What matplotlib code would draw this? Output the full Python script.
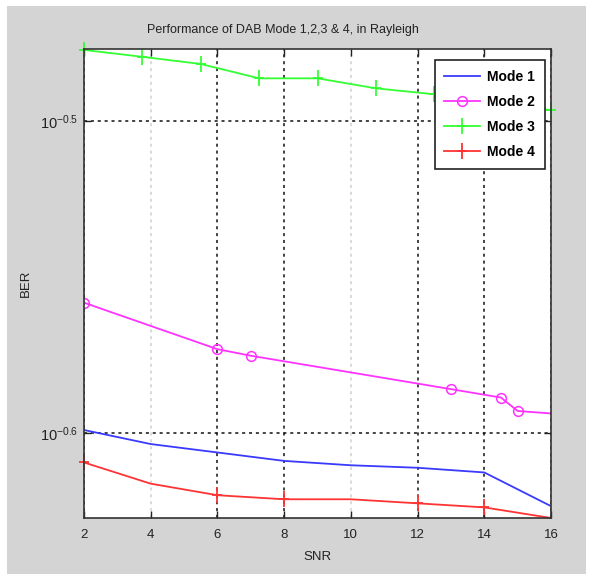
import matplotlib
matplotlib.use("Agg")
import matplotlib.pyplot as plt
from matplotlib.patches import Rectangle
import numpy as np

# values (log10 of BER)
snr_m1 = [2, 4, 6, 8, 10, 12, 14, 16]
logber_m1 = [-0.5990, -0.6035, -0.6062, -0.6089, -0.6103, -0.6111, -0.6126, -0.6234]

snr_m2 = [2, 6, 7, 13, 14.5, 15, 16]
logber_m2 = [-0.5582, -0.5731, -0.5752, -0.5859, -0.5886, -0.5929, -0.5937]

snr_m3 = [2, 3.75, 5.5, 7.25, 9, 10.75, 12.5, 14.25, 16]
logber_m3 = [-0.4772, -0.4794, -0.4817, -0.4863, -0.4863, -0.4895, -0.4914, -0.4940, -0.4965]

snr_m4 = [2, 4, 6, 8, 10, 12, 14, 16]
logber_m4 = [-0.6094, -0.6162, -0.6199, -0.6212, -0.6212, -0.6225, -0.6238, -0.6272]

labels = ["Mode 1", "Mode 2", "Mode 3", "Mode 4"]
xticks = [2, 4, 6, 8, 10, 12, 14, 16]
yticks_log = [-0.6, -0.5]

plt.rcParams['font.family'] = ['Liberation Sans', 'DejaVu Sans']
plt.rcParams['mathtext.fontset'] = 'custom'
plt.rcParams['mathtext.rm'] = 'Liberation Sans'
plt.rcParams['mathtext.it'] = 'Liberation Sans'

W, H = 593, 574
fig = plt.figure(figsize=(W / 100, H / 100), dpi=100, facecolor='white')
# matlab-ish grey figure panel
fig.patches.append(Rectangle((7 / W, 0), 579 / W, 568 / H, transform=fig.transFigure,
                             facecolor='#d4d4d4', edgecolor='none', zorder=-10))

ax = fig.add_axes([84 / W, (H - 518) / H, 467 / W, 469 / H])
ax.set_facecolor('white')

# tall, narrow plus like the matlab one
plus = [(-0.55, 0), (0.55, 0), (0, 0), (0, 1), (0, -1)]
from matplotlib.path import Path
plus_path = Path([(-0.55, 0), (0.55, 0), (0, 1), (0, -1)],
                 [Path.MOVETO, Path.LINETO, Path.MOVETO, Path.LINETO])

ax.plot(snr_m1, 10 ** np.array(logber_m1), color='#3a3aff', lw=1.3, label=labels[0])
ax.plot(snr_m2, 10 ** np.array(logber_m2), color='#ff33ff', lw=1.3, marker='o',
        ms=7, mfc='none', mew=1.1, markevery=list(range(len(snr_m2) - 1)), label=labels[1])
ax.plot(snr_m3, 10 ** np.array(logber_m3), color='#33ff33', lw=1.3, marker=plus_path,
        ms=12, mew=1.3, clip_on=False, label=labels[2])
ax.plot(snr_m4, 10 ** np.array(logber_m4), color='#ff3333', lw=1.3, marker=plus_path,
        ms=12, mew=1.3, clip_on=False, markevery=[0, 2, 3, 5, 6], label=labels[3])

ax.set_yscale('log')
ax.set_xlim(2, 16)
ax.set_ylim(10 ** -0.6272, 10 ** -0.4769)
ax.set_xticks(xticks)
ax.set_xticklabels([str(t) for t in xticks])
ax.set_yticks([10 ** v for v in yticks_log])
ax.set_yticklabels([r'$10^{%g}$' % v for v in yticks_log])
ax.yaxis.set_minor_locator(matplotlib.ticker.NullLocator())
ax.tick_params(direction='in', top=True, right=True, length=5, width=1,
               labelsize=9.5, colors='#222222')
ax.tick_params(axis='x', pad=8)
ax.tick_params(axis='y', pad=4, labelsize=10.5)

ax.grid(True, color='#111111', linestyle=(0, (2, 2.5)), linewidth=1.1)
for t, gl in zip(xticks, ax.xaxis.get_gridlines()):
    if t in (4, 10):
        gl.set_color('#cfcfcf')

for s in ax.spines.values():
    s.set_color('#333333')
    s.set_linewidth(1.2)

ax.set_xlabel('SNR', fontsize=9.5, color='#222222', labelpad=7)
ax.set_ylabel('BER', fontsize=9.5, color='#222222', labelpad=6)
fig.text(283 / W, 1 - 30 / H, 'Performance of DAB Mode 1,2,3 & 4, in Rayleigh',
         ha='center', va='center', fontsize=9, color='#222222')

leg = ax.legend(loc='upper right', bbox_to_anchor=(0.987, 0.9765), borderaxespad=0,
                fancybox=False, edgecolor='#222222', framealpha=1,
                prop={'weight': 'bold', 'size': 10}, handlelength=2.6,
                handletextpad=0.5, labelspacing=0.8, borderpad=0.7)
leg.get_frame().set_linewidth(1.2)

fig.savefig('out.png', dpi=100, facecolor=fig.get_facecolor())
